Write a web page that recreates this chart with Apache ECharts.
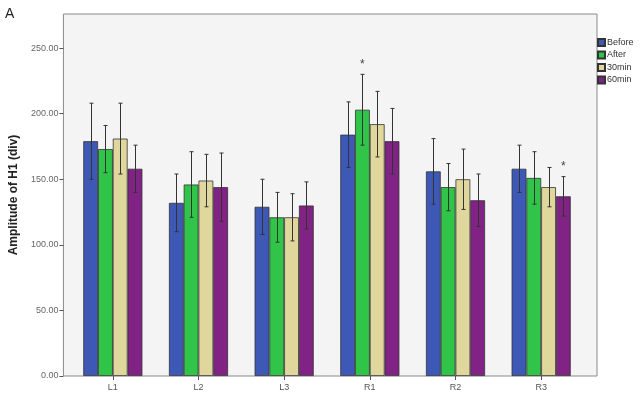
<!DOCTYPE html>
<html>
<head>
<meta charset="utf-8">
<script src="https://cdn.jsdelivr.net/npm/echarts@6/dist/echarts.min.js"></script>
<style>
  html, body { margin: 0; padding: 0; background: #fff; }
  #main { width: 644px; height: 402px; }
</style>
</head>
<body>
<div id="main"></div>
<script>
// categories and groups
var categories = ['L1', 'L2', 'L3', 'R1', 'R2', 'R3'];
var groups = ['Before', 'After', '30min', '60min'];

// means
var before = [179, 132, 129, 184, 156, 158];
var after = [173, 146, 121, 203, 144, 151];
var min30 = [181, 149, 121, 192, 150, 144];
var min60 = [158, 144, 130, 179, 134, 137];

// error bar half-lengths
var beforeErr = [29, 22, 21, 25, 25, 18];
var afterErr = [18, 25, 19, 27, 18, 20];
var min30Err = [27, 20, 18, 25, 23, 15];
var min60Err = [18, 26, 18, 25, 20, 15];

var yTicks = [0, 50, 100, 150, 200, 250];
var yMax = 276;

// significance marks: [category, group]
var stars = [['R1', 'After'], ['R3', '60min']];

var colors = ['#3e59b5', '#30c448', '#e0d79c', '#812384'];
var means = [before, after, min30, min60];
var errs = [beforeErr, afterErr, min30Err, min60Err];
var gapRatio = 0.31;

function barOffset(api, s) {
  var band = api.size([1, 0])[0];
  var w = band * (1 - gapRatio) / groups.length;
  return (s - (groups.length - 1) / 2) * w;
}

var series = [];
groups.forEach(function (g, s) {
  series.push({
    name: g,
    type: 'bar',
    xAxisIndex: 1,
    yAxisIndex: 1,
    data: means[s],
    barGap: '0%',
    barCategoryGap: (gapRatio * 100) + '%',
    itemStyle: { color: colors[s], borderColor: '#333', borderWidth: 0.8 },
    emphasis: { disabled: true }
  });
});

groups.forEach(function (g, s) {
  series.push({
    type: 'custom',
    xAxisIndex: 1,
    yAxisIndex: 1,
    z: 5,
    data: means[s].map(function (v, i) { return [i, v - errs[s][i], v + errs[s][i]]; }),
    renderItem: function (params, api) {
      var off = barOffset(api, s);
      var lo = api.coord([api.value(0), api.value(1)]);
      var hi = api.coord([api.value(0), api.value(2)]);
      var x = Math.round(lo[0] + off) + 0.5;
      var st = { stroke: '#333', lineWidth: 1 };
      return {
        type: 'group',
        children: [
          { type: 'line', shape: { x1: x, y1: lo[1], x2: x, y2: hi[1] }, style: st },
          { type: 'line', shape: { x1: x - 2, y1: lo[1], x2: x + 2, y2: lo[1] }, style: st },
          { type: 'line', shape: { x1: x - 2, y1: hi[1], x2: x + 2, y2: hi[1] }, style: st }
        ]
      };
    },
    silent: true
  });
});

series.push({
  type: 'custom',
  xAxisIndex: 1,
  yAxisIndex: 1,
  z: 6,
  silent: true,
  data: stars.map(function (st) {
    var i = categories.indexOf(st[0]);
    var s = groups.indexOf(st[1]);
    return [i, means[s][i] + errs[s][i], s];
  }),
  renderItem: function (params, api) {
    var s = api.value(2);
    var p = api.coord([api.value(0), api.value(1)]);
    return {
      type: 'text',
      style: {
        text: '*', x: p[0] + barOffset(api, s), y: p[1] - 10,
        align: 'center', verticalAlign: 'middle',
        font: '12px "Liberation Sans", Arial', fill: '#444'
      }
    };
  }
});

var option = {
  animation: false,
  backgroundColor: '#fff',
  textStyle: { fontFamily: '"Liberation Sans", Arial, sans-serif' },
  graphic: [{
    type: 'text', left: 5, top: 7,
    style: { text: 'A', font: '14px "Liberation Sans", Arial', fill: '#222' }
  }],
  legend: {
    data: groups,
    orient: 'vertical',
    left: 597,
    top: 38,
    padding: 0,
    itemWidth: 7,
    itemHeight: 7,
    itemGap: 3.5,
    icon: 'rect',
    textStyle: { fontSize: 9, color: '#333', padding: [0, 0, 0, -3] },
    selectedMode: false
  },
  grid: [
    { left: 57, top: 14, width: 540, height: 362, show: true,
      backgroundColor: '#f4f4f4', borderColor: '#8a8a8a', borderWidth: 1 },
    { left: 70, top: 14, width: 514, height: 362 }
  ],
  xAxis: [
    { type: 'category', gridIndex: 0, data: categories, show: false },
    { type: 'category', gridIndex: 1, data: categories,
      axisLine: { show: false },
      axisTick: { show: true, alignWithLabel: true, length: 4, lineStyle: { color: '#555' } },
      axisLabel: { fontSize: 9, color: '#555', margin: 7 } }
  ],
  yAxis: [
    { type: 'value', gridIndex: 0, min: 0, max: yMax, interval: 50,
      name: 'Amplitude of H1 (div)', nameLocation: 'middle', nameGap: 42,
      nameTextStyle: { fontSize: 12, fontWeight: 'bold', color: '#222' },
      splitLine: { show: false },
      axisLine: { show: false },
      axisTick: { show: true, length: 4, lineStyle: { color: '#555' } },
      axisLabel: { fontSize: 9, color: '#666', margin: 5, showMaxLabel: false,
        formatter: function (v) { return yTicks.indexOf(v) >= 0 ? v.toFixed(2) : ''; } } },
    { type: 'value', gridIndex: 1, min: 0, max: yMax, show: false, splitLine: { show: false } }
  ],
  series: series
};

var chart = echarts.init(document.getElementById('main'), null, { renderer: 'canvas' });
chart.setOption(option);
</script>
</body>
</html>
